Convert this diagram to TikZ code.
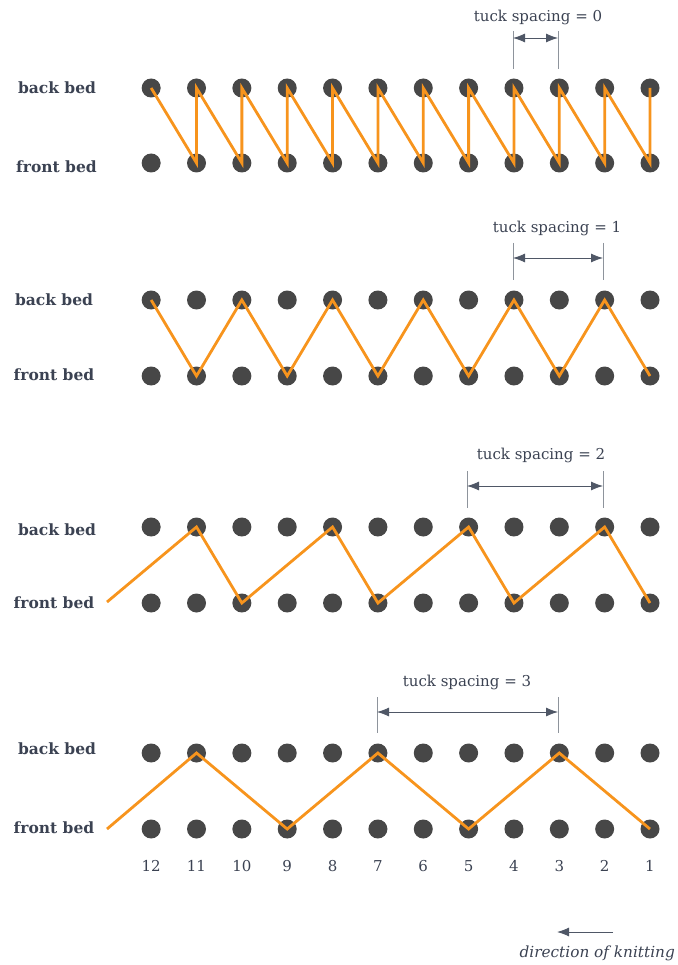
\documentclass[tikz,border=0pt]{standalone}
\usepackage{fontspec}
\setmainfont{DejaVu Serif}
\usetikzlibrary{arrows.meta}
\definecolor{dotc}{HTML}{474747}
\definecolor{yarn}{HTML}{F7941D}
\definecolor{txt}{HTML}{3B4252}
\definecolor{tickc}{HTML}{8E949C}
\definecolor{dimc}{HTML}{4F5766}
\begin{document}
\begin{tikzpicture}[x=1pt,y=-1pt,
  needle/.style={circle,fill=dotc,minimum size=19pt,inner sep=0pt},
  yarnline/.style={draw=yarn,line width=2.8pt,line join=miter},
  bedlabel/.style={font=\bfseries\fontsize{15.5}{17}\selectfont,text=txt,inner sep=0pt},
  dimlabel/.style={font=\fontsize{15}{17}\selectfont,text=txt,inner sep=0pt},
  numlabel/.style={font=\fontsize{15}{17}\selectfont,text=txt,inner sep=0pt},
  tickline/.style={draw=tickc,line width=0.9pt},
  dimarrow/.style={draw=dimc,line width=0.8pt,{Latex[length=12pt,width=9pt]}-{Latex[length=12pt,width=9pt]}}]
\useasboundingbox (0,0) rectangle (677,965);
% needles
\foreach \n in {1,...,12} {
  \node[needle] (s1b\n) at ({650-(\n-1)*45.35},88) {};
  \node[needle] (s1f\n) at ({650-(\n-1)*45.35},163) {};
  \node[needle] (s2b\n) at ({650-(\n-1)*45.35},300) {};
  \node[needle] (s2f\n) at ({650-(\n-1)*45.35},376) {};
  \node[needle] (s3b\n) at ({650-(\n-1)*45.35},527) {};
  \node[needle] (s3f\n) at ({650-(\n-1)*45.35},603) {};
  \node[needle] (s4b\n) at ({650-(\n-1)*45.35},753) {};
  \node[needle] (s4f\n) at ({650-(\n-1)*45.35},829) {};
  \node[numlabel] (num\n) at ({650-(\n-1)*45.35},866) {\n};
}
% bed labels
\node[bedlabel] (l1b) at (57,88) {back bed};
\node[bedlabel] (l1f) at (56.5,167) {front bed};
\node[bedlabel] (l2b) at (54,300) {back bed};
\node[bedlabel] (l2f) at (54,375) {front bed};
\node[bedlabel] (l3b) at (57,530) {back bed};
\node[bedlabel] (l3f) at (54,603) {front bed};
\node[bedlabel] (l4b) at (57,749) {back bed};
\node[bedlabel] (l4f) at (54,828) {front bed};
% yarn paths
\draw[yarnline] (s1b12.center) \foreach \n in {11,...,1} { -- (s1f\n.center) -- (s1b\n.center) };
\draw[yarnline] (s2b12.center) -- (s2f11.center) -- (s2b10.center) -- (s2f9.center) -- (s2b8.center) -- (s2f7.center) -- (s2b6.center) -- (s2f5.center) -- (s2b4.center) -- (s2f3.center) -- (s2b2.center) -- (s2f1.center);
\coordinate (y3) at (107,602);
\coordinate (y4) at (107,829);
\draw[yarnline] (y3) -- (s3b11.center) -- (s3f10.center) -- (s3b8.center) -- (s3f7.center) -- (s3b5.center) -- (s3f4.center) -- (s3b2.center) -- (s3f1.center);
\draw[yarnline] (y4) -- (s4b11.center) -- (s4f9.center) -- (s4b7.center) -- (s4f5.center) -- (s4b3.center) -- (s4f1.center);
% dimensions
\node[dimlabel] (d1) at (538,17) {tuck spacing = 0};
\coordinate (t1a) at (513,31); \coordinate (t1b) at (513,69);
\coordinate (t1c) at (558,31); \coordinate (t1d) at (558,69);
\draw[tickline] (t1a) -- (t1b); \draw[tickline] (t1c) -- (t1d);
\coordinate (a1a) at (513,38); \coordinate (a1b) at (558,38);
\draw[dimarrow] (a1a) -- (a1b);

\node[dimlabel] (d2) at (557,228) {tuck spacing = 1};
\coordinate (t2a) at (513,243); \coordinate (t2b) at (513,280);
\coordinate (t2c) at (603,243); \coordinate (t2d) at (603,280);
\draw[tickline] (t2a) -- (t2b); \draw[tickline] (t2c) -- (t2d);
\coordinate (a2a) at (513,258); \coordinate (a2b) at (603,258);
\draw[dimarrow] (a2a) -- (a2b);

\node[dimlabel] (d3) at (541,455) {tuck spacing = 2};
\coordinate (t3a) at (467,471); \coordinate (t3b) at (467,508);
\coordinate (t3c) at (603,471); \coordinate (t3d) at (603,508);
\draw[tickline] (t3a) -- (t3b); \draw[tickline] (t3c) -- (t3d);
\coordinate (a3a) at (467,486); \coordinate (a3b) at (603,486);
\draw[dimarrow] (a3a) -- (a3b);

\node[dimlabel] (d4) at (467,682) {tuck spacing = 3};
\coordinate (t4a) at (377,697); \coordinate (t4b) at (377,733);
\coordinate (t4c) at (558,697); \coordinate (t4d) at (558,733);
\draw[tickline] (t4a) -- (t4b); \draw[tickline] (t4c) -- (t4d);
\coordinate (a4a) at (377,712); \coordinate (a4b) at (558,712);
\draw[dimarrow] (a4a) -- (a4b);
% direction of knitting
\coordinate (k1) at (613,932); \coordinate (k2) at (557,932);
\draw[draw=dimc,line width=0.9pt,-{Latex[length=12pt,width=9pt]}] (k1) -- (k2);
\node[dimlabel,font=\itshape\fontsize{15.3}{17}\selectfont,anchor=east] (dk) at (675,953) {direction of knitting};
\end{tikzpicture}
\end{document}
